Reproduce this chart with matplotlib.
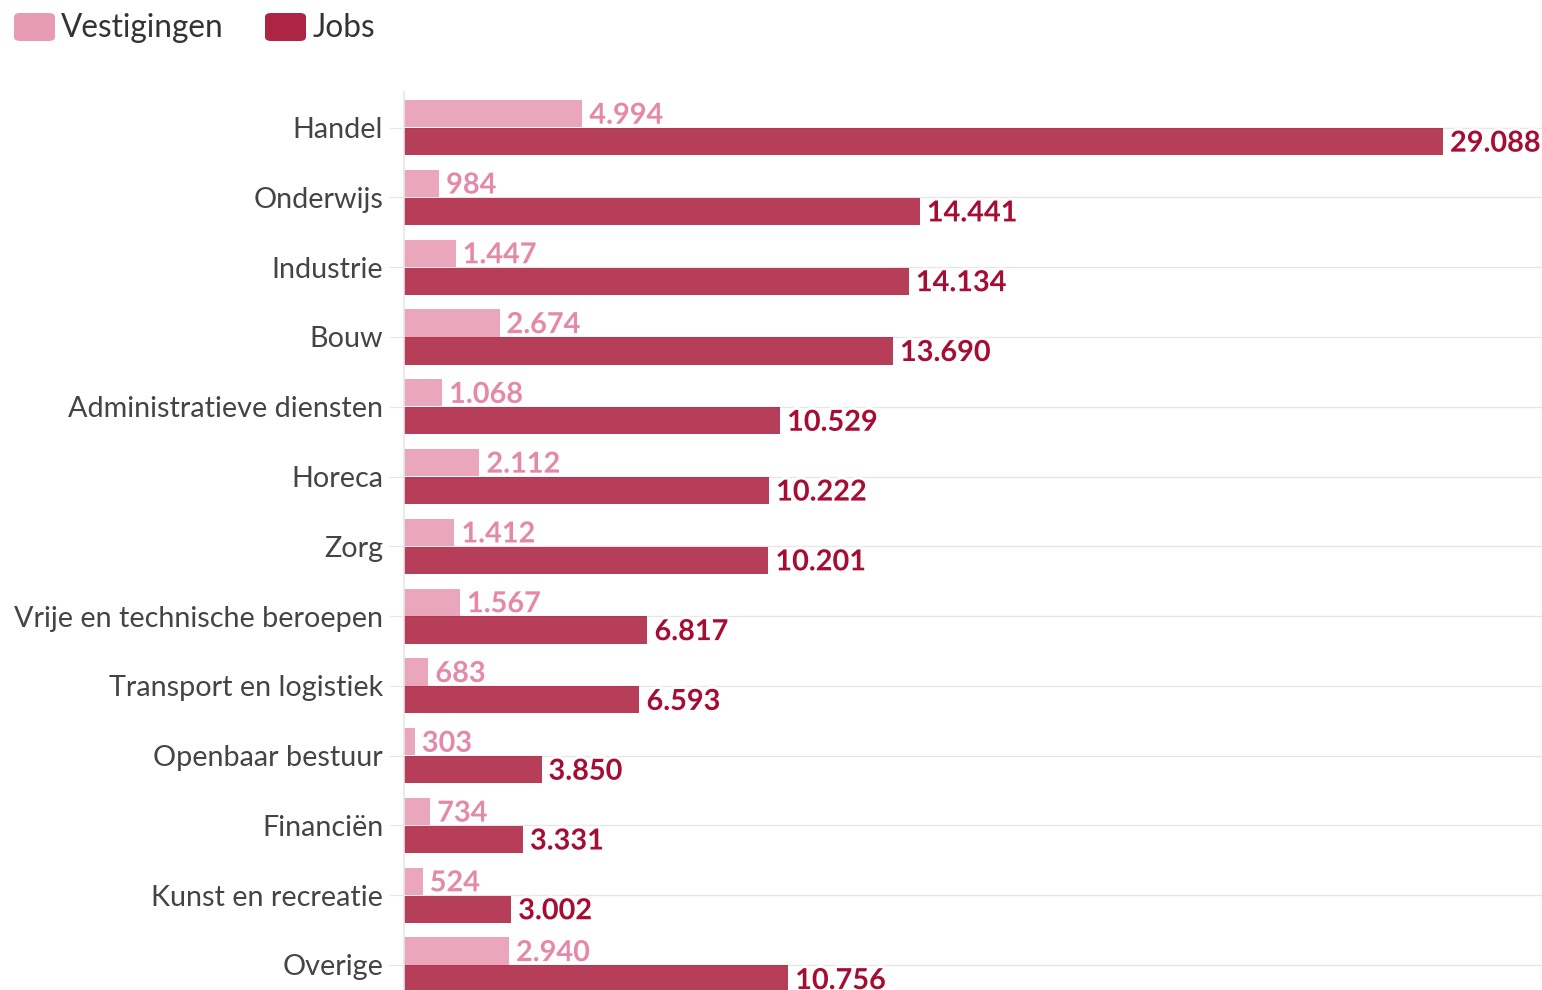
import matplotlib
matplotlib.use("Agg")
import matplotlib.pyplot as plt
import matplotlib.patheffects as pe
from matplotlib.patches import FancyBboxPatch
import numpy as np

categories = ["Handel", "Onderwijs", "Industrie", "Bouw", "Administratieve diensten",
              "Horeca", "Zorg", "Vrije en technische beroepen", "Transport en logistiek",
              "Openbaar bestuur", "Financiën", "Kunst en recreatie", "Overige"]
vestigingen = [4994, 984, 1447, 2674, 1068, 2112, 1412, 1567, 683, 303, 734, 524, 2940]
jobs = [29088, 14441, 14134, 13690, 10529, 10222, 10201, 6817, 6593, 3850, 3331, 3002, 10756]
series_names = ["Vestigingen", "Jobs"]

light = "#E591AB"
dark = "#A50D30"
light_txt = "#E589A8"
dark_txt = "#A50D33"

def fmt(v):
    return f"{v:,}".replace(",", ".")

plt.rcParams['font.family'] = ['Lato', 'DejaVu Sans']
W, H = 1542, 990
fig = plt.figure(figsize=(W/100, H/100), dpi=100)
ax = fig.add_axes([404/W, 0, 1 - 404/W, 1 - 92/H])

y = np.arange(len(categories))
bh = 0.39
ax.barh(y - 0.2, vestigingen, height=bh, color=light, alpha=0.8, zorder=2)
ax.barh(y + 0.2, jobs, height=bh, color=dark, alpha=0.8, zorder=2)

ax.set_xlim(0, 31860)
ax.set_ylim((990 - 128) / 69.75, -0.51)
ax.set_yticks(y)
ax.set_yticklabels(categories, fontsize=20.7, color="#444444")
ax.tick_params(axis='y', length=11, color="#e6e6e6", pad=4)
ax.set_xticks([])
ax.grid(axis='y', color="#e6e6e6", linewidth=1, zorder=0)
for s in ["top", "right", "bottom"]:
    ax.spines[s].set_visible(False)
ax.spines["left"].set_color("#e6e6e6")
ax.spines["left"].set_linewidth(1.2)

stroke = [pe.withStroke(linewidth=4, foreground="white")]
off = 29088 * 7 / 1039
for i in range(len(categories)):
    ax.text(vestigingen[i] + off, y[i] - 0.17, fmt(vestigingen[i]), va="center", ha="left",
            fontsize=20.8, fontweight="bold", color=light_txt, path_effects=stroke, zorder=3)
    ax.text(jobs[i] + off, y[i] + 0.23, fmt(jobs[i]), va="center", ha="left",
            fontsize=20.8, fontweight="bold", color=dark_txt, path_effects=stroke, zorder=3)

# legend
def swatch(x0, col):
    p = FancyBboxPatch((x0 / W, 1 - 41 / H), 41 / W, 28 / H,
                       boxstyle="round,pad=0,rounding_size=0.004",
                       transform=fig.transFigure, facecolor=col, edgecolor="none", alpha=0.9)
    fig.patches.append(p)

swatch(14, light)
fig.text(61 / W, 1 - 28 / H, series_names[0], fontsize=22.7, color="#333333", va="center", ha="left")
swatch(265, dark)
fig.text(313 / W, 1 - 28 / H, series_names[1], fontsize=22.7, color="#333333", va="center", ha="left")

fig.savefig("out.png", dpi=100)
